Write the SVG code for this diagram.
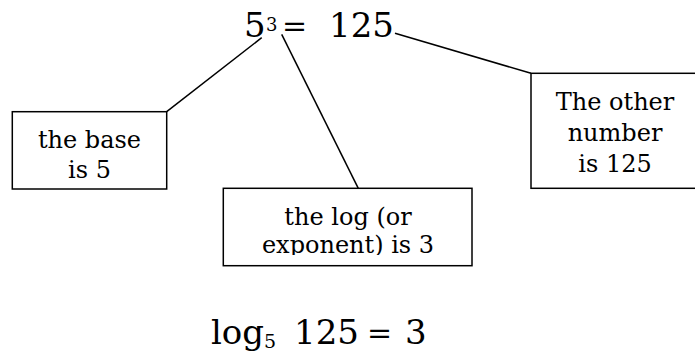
<svg xmlns="http://www.w3.org/2000/svg" width="695" height="351" viewBox="0 0 695 351">
  <style>
    .t { font-family: "DejaVu Serif", "Liberation Serif", serif; fill: #000; }
    .box { fill: #fff; stroke: #000; stroke-width: 1.5; }
    .lbl { font-size: 24px; text-anchor: middle; }
    .big { font-size: 34px; }
    .eq { font-size: 30px; }
    .conn line { stroke: #000; stroke-width: 1.5; }
  </style>
  <defs>
    <clipPath id="clipLog">
      <rect x="223" y="188" width="250" height="67"/>
    </clipPath>
  </defs>
  <rect width="695" height="351" fill="#fff"/>

  <g id="connectors" class="conn">
    <line x1="166.7" y1="111.7" x2="261.7" y2="37.7"/>
    <line x1="281.7" y1="34.3" x2="358.3" y2="188.3"/>
    <line x1="395" y1="33.3" x2="531" y2="73.3"/>
  </g>

  <g id="equation">
    <text class="t big" x="244" y="37">5</text>
    <text class="t" x="266" y="31" font-size="18">3</text>
    <text class="t eq" x="282" y="36">=</text>
    <text class="t big" x="329" y="37">125</text>
  </g>

  <g id="node-base">
    <rect class="box" x="12.3" y="111.7" width="154.4" height="77.3"/>
    <text class="t lbl" x="89.5" y="148">the base</text>
    <text class="t lbl" x="89.5" y="178">is 5</text>
  </g>

  <g id="node-log">
    <rect class="box" x="223.3" y="188.3" width="248.7" height="77.4"/>
    <g clip-path="url(#clipLog)">
      <text class="t lbl" x="348" y="225">the log (or</text>
      <text class="t lbl" x="348" y="253">exponent) is 3</text>
    </g>
  </g>

  <g id="node-other">
    <rect class="box" x="531" y="73.3" width="170" height="115"/>
    <text class="t lbl" x="615" y="110">The other</text>
    <text class="t lbl" x="615" y="141">number</text>
    <text class="t lbl" x="615" y="172">is 125</text>
  </g>

  <g id="log-form">
    <text class="t big" x="211" y="344">log</text>
    <text class="t" x="264" y="348" font-size="19">5</text>
    <text class="t big" x="294" y="344">125</text>
    <text class="t eq" x="367" y="343">=</text>
    <text class="t big" x="405" y="344">3</text>
  </g>
</svg>
